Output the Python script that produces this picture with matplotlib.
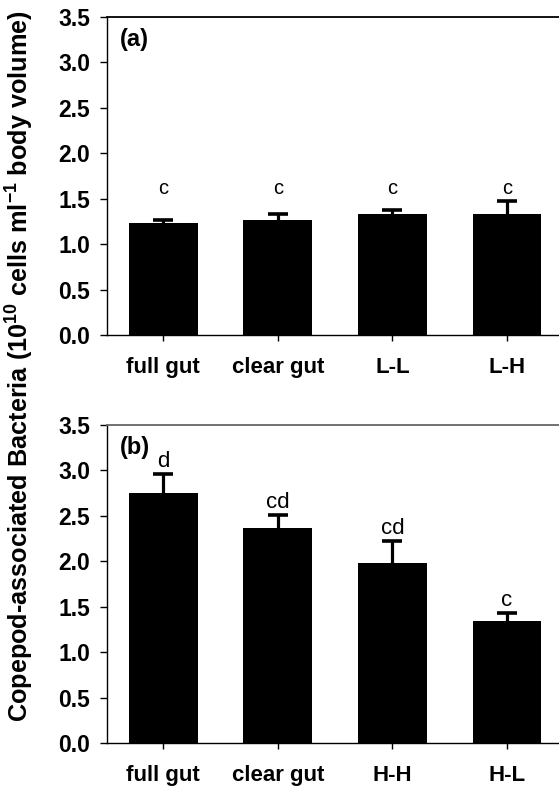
import numpy as np
import matplotlib
matplotlib.use("Agg")
import matplotlib.pyplot as plt

plt.rcParams['font.family'] = ['Liberation Sans', 'DejaVu Sans']
plt.rcParams['mathtext.fontset'] = 'custom'
plt.rcParams['mathtext.bf'] = 'Liberation Sans:bold'
plt.rcParams['mathtext.rm'] = 'Liberation Sans:bold'

# panel (a)
labels_a = ["full gut", "clear gut", "L-L", "L-H"]
means_a = [1.23, 1.27, 1.33, 1.33]
errs_a = [0.04, 0.06, 0.05, 0.14]
letters_a = ["c", "c", "c", "c"]

# panel (b)
labels_b = ["full gut", "clear gut", "H-H", "H-L"]
means_b = [2.75, 2.37, 1.98, 1.34]
errs_b = [0.21, 0.14, 0.24, 0.09]
letters_b = ["d", "cd", "cd", "c"]

yticks = np.arange(0, 3.51, 0.5)


def draw_panel(ax, labels, means, errs, letters, tag, top_color, letter_size, letter_y=None):
    x = np.arange(len(labels))
    means = np.array(means)
    errs = np.array(errs)
    ax.bar(x, means, width=0.6, color='black', zorder=2)
    # upper error bars only, no cap at the bar top
    ax.vlines(x, means, means + errs, color='black', lw=2.3, zorder=3)
    ax.plot(x, means + errs, ls='none', marker='_', ms=14, mew=2.6,
            color='black', zorder=3)
    for xi, m, e, s in zip(x, means, errs, letters):
        ly = letter_y if letter_y is not None else m + e + 0.08
        ax.text(xi, ly, s, ha='center', va='baseline', fontsize=letter_size)
    ax.set_xlim(-0.493, 3.454)
    ax.set_ylim(0, 3.5)
    ax.set_yticks(yticks)
    ax.set_yticklabels([f"{v:.1f}" for v in yticks], fontsize=16.5, fontweight='bold')
    ax.set_xticks(x)
    ax.set_xticklabels(labels, fontsize=16, fontweight='bold')
    ax.tick_params(axis='y', direction='out', length=5, width=1, pad=7)
    ax.tick_params(axis='x', direction='out', length=4, width=1, pad=12)
    ax.spines['right'].set_visible(False)
    ax.spines['top'].set_color(top_color)
    ax.spines['top'].set_linewidth(1.3)
    ax.spines['left'].set_linewidth(1)
    ax.spines['bottom'].set_linewidth(1)
    ax.text(0.028, 0.965, tag, transform=ax.transAxes, ha='left', va='top',
            fontsize=17, fontweight='bold')


fig = plt.figure(figsize=(5.59, 7.87), dpi=100)
ax_a = fig.add_axes([0.191, 0.5743, 0.809, 0.4041])
ax_b = fig.add_axes([0.191, 0.0559, 0.809, 0.4041])

draw_panel(ax_a, labels_a, means_a, errs_a, letters_a, "(a)", 'black', 14.5, letter_y=1.55)
draw_panel(ax_b, labels_b, means_b, errs_b, letters_b, "(b)", '#666666', 16)

fig.text(0.036, 0.535,
         r'Copepod-associated Bacteria (10$^{\mathbf{10}}$ cells ml$^{\mathbf{-1}}$ body volume)',
         rotation=90, ha='center', va='center', fontsize=18.2, fontweight='bold')

fig.savefig("out.png", dpi=100)
